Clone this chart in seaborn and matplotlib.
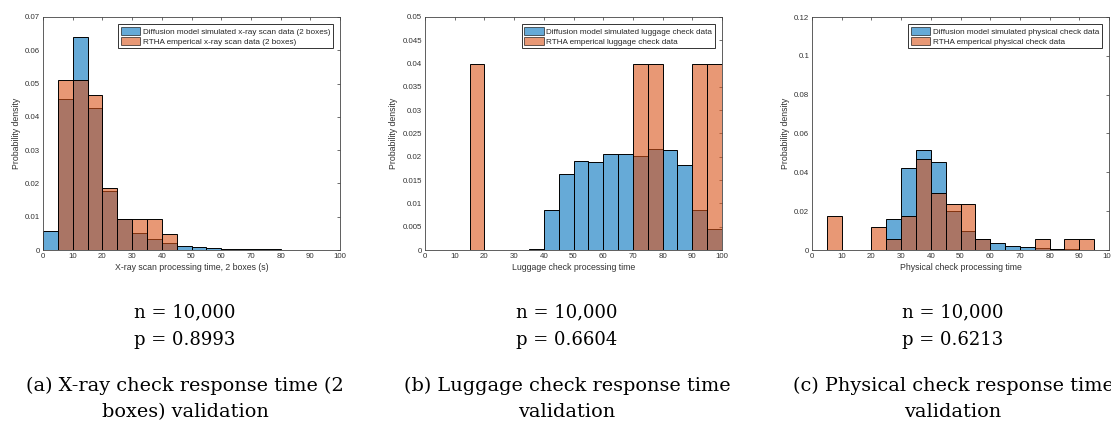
import numpy as np
import pandas as pd
import seaborn as sns
from matplotlib import pyplot as plt
from matplotlib.patches import Patch
from matplotlib.ticker import FuncFormatter

"""
Three validation histograms: diffusion model output vs RTHA empirical data
"""

# bin edges shared by all panels (width 5 s, 0 to 100)
bin_edges = np.arange(0, 105, 5)
bin_centers = bin_edges[:-1] + 2.5

# (a) x-ray scan, 2 boxes
xray_sim = [0.0057, 0.0453, 0.0639, 0.0426, 0.0177, 0.0093, 0.0050, 0.0033, 0.0022, 0.0012,
            0.0008, 0.0006, 0.0004, 0.0004, 0.0002, 0.0002, 0.0001, 0, 0, 0]
xray_emp = [0, 0.0512, 0.0512, 0.0465, 0.0186, 0.0093, 0.0093, 0.0093, 0.0047, 0,
            0, 0, 0, 0, 0, 0, 0, 0, 0, 0]

# (b) luggage check
lug_sim = [0, 0, 0, 0, 0, 0, 0, 0.0003, 0.0085, 0.0164,
           0.0192, 0.0188, 0.0207, 0.0207, 0.0202, 0.0217, 0.0215, 0.0183, 0.0086, 0.0046]
lug_emp = [0, 0, 0, 0.04, 0, 0, 0, 0, 0, 0,
           0, 0, 0, 0, 0.04, 0.04, 0, 0, 0.04, 0.04]

# (c) physical check
phys_sim = [0, 0, 0, 0, 0, 0.0158, 0.0422, 0.0514, 0.0451, 0.0201,
            0.0098, 0.0055, 0.0036, 0.0021, 0.0014, 0.0010, 0.0007, 0.0003, 0.0002, 0]
phys_emp = [0, 0.0176, 0, 0, 0.0118, 0.0059, 0.0176, 0.0470, 0.0294, 0.0235,
            0.0235, 0.0059, 0, 0, 0, 0.0059, 0, 0.0059, 0.0059, 0]

panels = [
    (xray_sim, xray_emp, 0.07, 0.01,
     "Diffusion model simulated x-ray scan data (2 boxes)",
     "RTHA emperical x-ray scan data (2 boxes)",
     "X-ray scan processing time, 2 boxes (s)",
     "p = 0.8993", ["(a) X-ray check response time (2", "boxes) validation"]),
    (lug_sim, lug_emp, 0.05, 0.005,
     "Diffusion model simulated luggage check data",
     "RTHA emperical luggage check data",
     "Luggage check processing time",
     "p = 0.6604", ["(b) Luggage check response time", "validation"]),
    (phys_sim, phys_emp, 0.12, 0.02,
     "Diffusion model simulated physical check data",
     "RTHA emperical physical check data",
     "Physical check processing time",
     "p = 0.6213", ["(c) Physical check response time", "validation"]),
]

blue = "#0072BD"
orange = "#D95319"

sns.set_style("white")
plt.rcParams['font.family'] = ['Liberation Sans', 'DejaVu Sans']
plt.rcParams['axes.edgecolor'] = '#444444'
plt.rcParams['axes.linewidth'] = 0.6

fig = plt.figure(figsize=(11.11, 4.23), dpi=100)
lefts = [43 / 1111, 425 / 1111, 812 / 1111]
text_centers = [185 / 1111, 567 / 1111, 953 / 1111]

for i, (sim, emp, ymax, ystep, lab_sim, lab_emp, xlab, ptxt, caption) in enumerate(panels):
    ax = fig.add_axes([lefts[i], 173 / 423, 297 / 1111, 233 / 423])
    for vals, col in [(sim, blue), (emp, orange)]:
        df = pd.DataFrame({"t": bin_centers, "dens": np.array(vals, dtype=float)})
        before = len(ax.patches)
        sns.histplot(data=df, x="t", weights="dens", binwidth=5, binrange=(0, 100), ax=ax,
                     color=col, alpha=0.6, edgecolor='black', linewidth=0.7)
        # hide the empty bins
        for p in ax.patches[before:]:
            if p.get_height() <= 0:
                p.set_visible(False)

    ax.set_xlim(0, 100)
    ax.set_ylim(0, ymax)
    ax.set_xticks(np.arange(0, 101, 10))
    ax.set_yticks(np.arange(0, ymax + ystep / 2, ystep))
    ax.yaxis.set_major_formatter(FuncFormatter(lambda v, pos: "0" if abs(v) < 1e-9 else f"{v:g}"))
    ax.tick_params(direction='in', length=2.5, width=0.5, top=True, right=True,
                   labelsize=5.7, colors='#333333', pad=2)
    ax.set_xlabel(xlab, fontsize=6.3, color='#333333', labelpad=2)
    ax.set_ylabel("Probability density", fontsize=6.3, color='#333333', labelpad=3)
    for s in ax.spines.values():
        s.set_visible(True)

    handles = [Patch(facecolor=blue, alpha=0.6, edgecolor='black', linewidth=0.7),
               Patch(facecolor=orange, alpha=0.6, edgecolor='black', linewidth=0.7)]
    leg = ax.legend(handles, [lab_sim, lab_emp], loc='upper right', fontsize=5.9,
                    frameon=True, fancybox=False, edgecolor='#333333',
                    handlelength=2.4, handleheight=1.1, handletextpad=0.3,
                    borderaxespad=0.9, borderpad=0.3, labelspacing=0.2)
    leg.get_frame().set_linewidth(0.7)
    leg.get_frame().set_alpha(1)

    cx = text_centers[i]
    serif = dict(family='DejaVu Serif', ha='center', va='center', color='black')
    fig.text(cx, 1 - 312 / 423, "n = 10,000", fontsize=13, **serif)
    fig.text(cx, 1 - 340 / 423, ptxt, fontsize=13, **serif)
    fig.text(cx, 1 - 386 / 423, caption[0], fontsize=13.9, **serif)
    fig.text(cx, 1 - 412 / 423, caption[1], fontsize=13.9, **serif)

fig.savefig("out.png", dpi=100)
